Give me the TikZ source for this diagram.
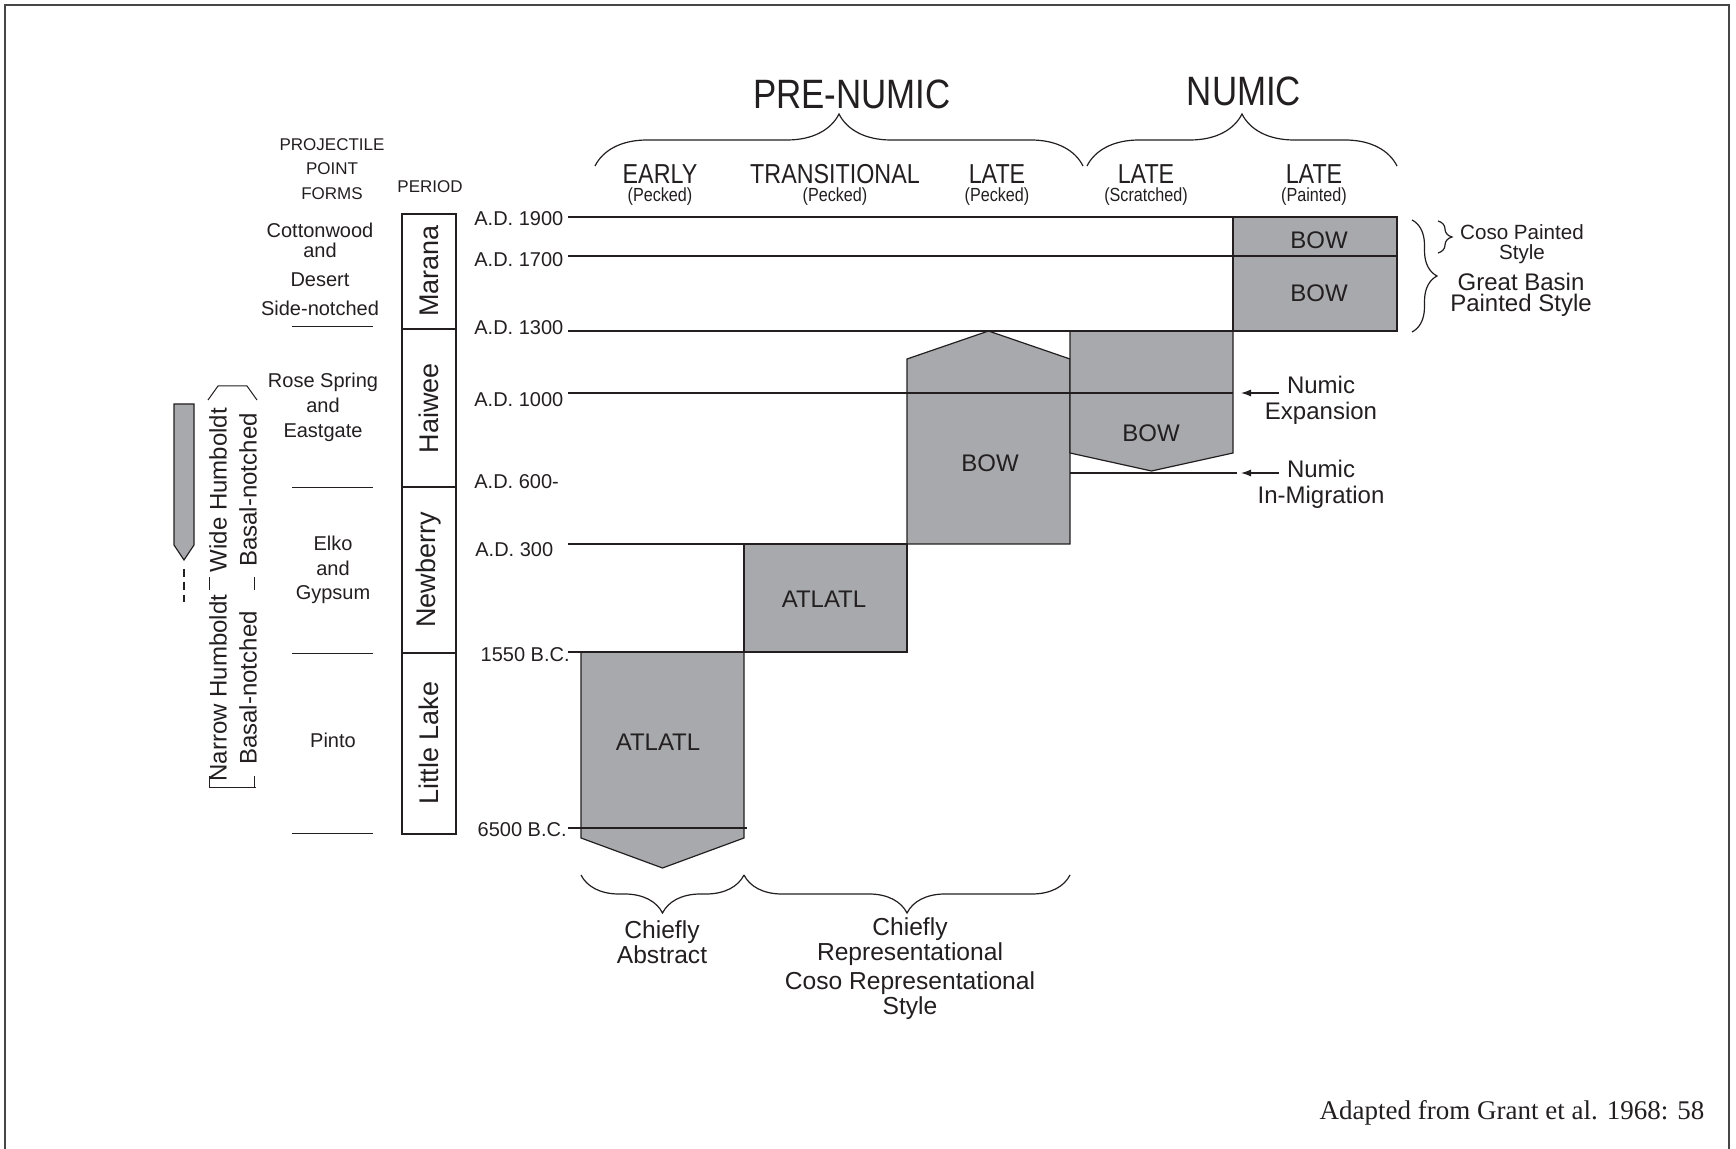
\documentclass[tikz,border=0pt]{standalone}
\usepackage{fontspec}
\setmainfont{Liberation Sans}
\newfontfamily\condfont{Liberation Sans}[FakeStretch=0.85]
\newfontfamily\citefont{Liberation Serif}
\usetikzlibrary{arrows.meta, calc, decorations.pathreplacing}
\definecolor{cink}{RGB}{35,31,32}
\definecolor{cblock}{RGB}{167,169,172}
\definecolor{cframe}{RGB}{70,70,70}

\begin{document}
\begin{tikzpicture}[
    x=0.5pt, y=-0.5pt,
    every node/.style={text=cink, inner sep=0pt, align=center},
    tline/.style={draw=cink, line width=0.7pt},
    thinl/.style={draw=cink, line width=0.5pt},
    blockshape/.style={draw=cink, fill=cblock, line width=0.6pt},
    blocklbl/.style={font=\fontsize{12}{12}\selectfont},
    datelbl/.style={font=\fontsize{10}{10}\selectfont},
    hdr/.style={font=\condfont\fontsize{20.5}{20.5}\selectfont},
    colhead/.style={font=\condfont\fontsize{13.7}{13.7}\selectfont},
    colsub/.style={font=\condfont\fontsize{9.5}{9.5}\selectfont},
    periodbox/.style={draw=cink, line width=1.3pt},
    periodlbl/.style={rotate=90, font=\fontsize{13.5}{13.5}\selectfont},
    formlbl/.style={font=\fontsize{10}{12.5}\selectfont},
    humlbl/.style={rotate=90, font=\fontsize{12}{15}\selectfont},
    sidelbl/.style={font=\fontsize{12}{13}\selectfont},
    bracefrm/.style={draw=cink, line width=0.6pt, decorate, decoration={brace, amplitude=#1}},
    pointer/.style={draw=cink, line width=0.6pt, -{Latex[length=5pt,width=3.5pt]}}
]
\useasboundingbox (0,0) rectangle (1736,1149);
\draw[cframe, line width=1pt] (5,1149) -- (5,5) -- (1729,5) -- (1729,1149);

% headings
\node[hdr] (prenumic) at (852,94) {PRE-NUMIC};
\node[hdr] (numic) at (1244,91) {NUMIC};
\draw[bracefrm=26pt] (595,166) -- (1083,166);
\draw[bracefrm=26pt] (1087,166) -- (1397,166);

\node[colhead] (early) at (660,174) {EARLY};
\node[colsub] (earlysub) at (660,197) {(Pecked)};
\node[colhead] (trans) at (835,174) {TRANSITIONAL};
\node[colsub] (transsub) at (835,197) {(Pecked)};
\node[colhead] (latepk) at (997,174) {LATE};
\node[colsub] (latepksub) at (997,197) {(Pecked)};
\node[colhead] (latesc) at (1146,174) {LATE};
\node[colsub] (latescsub) at (1146,197) {(Scratched)};
\node[colhead] (latept) at (1314,174) {LATE};
\node[colsub] (lateptsub) at (1314,197) {(Painted)};

% style blocks
\draw[blockshape] (581,652) -- (744,652) -- (744,838) -- (662.5,868) -- (581,838) -- cycle;
\draw[blockshape] (744,544) rectangle (907,652);
\draw[blockshape] (907,544) -- (907,359) -- (988.5,331) -- (1070,359) -- (1070,544) -- cycle;
\draw[blockshape] (1070,331) -- (1233,331) -- (1233,453) -- (1151.5,471) -- (1070,453) -- cycle;
\draw[blockshape] (1233,217) rectangle (1397,331);

% time lines
\foreach \yy/\xe in {217/1233, 256/1397, 331/1397, 393/1233, 544/907, 652/907, 828/747}
    \draw[tline] (568,\yy) -- (\xe,\yy);
\draw[tline] (1070,473) -- (1237,473);

\node[blocklbl] (atlatlA) at (658,742) {ATLATL};
\node[blocklbl] (atlatlB) at (824,599) {ATLATL};
\node[blocklbl] (bowA) at (990,463) {BOW};
\node[blocklbl] (bowB) at (1151,433) {BOW};
\node[blocklbl] (bowC) at (1319,240) {BOW};
\node[blocklbl] (bowD) at (1319,293) {BOW};

% dates
\node[datelbl, anchor=west] (d1900) at (474,219) {A.D. 1900};
\node[datelbl, anchor=west] (d1700) at (474,260) {A.D. 1700};
\node[datelbl, anchor=west] (d1300) at (474,328) {A.D. 1300};
\node[datelbl, anchor=west] (d1000) at (474,400) {A.D. 1000};
\node[datelbl, anchor=west] (d600) at (474,482) {A.D. 600-};
\node[datelbl, anchor=west] (d300) at (475,550) {A.D. 300};
\node[datelbl, anchor=east] (d1550) at (570,655) {1550 B.C.};
\node[datelbl, anchor=east] (d6500) at (567,830) {6500 B.C.};

% period column
\draw[periodbox] (402,214) rectangle (456,834);
\foreach \yy in {329,487,653}
    \draw[periodbox] (402,\yy) -- (456,\yy);
\node[periodlbl] (marana) at (429,271) {Marana};
\node[periodlbl] (haiwee) at (429,408) {Haiwee};
\node[periodlbl] (newberry) at (429,570) {Newberry};
\node[periodlbl] (littlelake) at (429,743) {Little Lake};
\node[font=\fontsize{8.5}{12.25}\selectfont] (projhead) at (332,169) {PROJECTILE\\POINT\\FORMS};
\node[font=\fontsize{8.5}{8.5}\selectfont] (periodhead) at (430,187) {PERIOD};

% point forms
\node[font=\fontsize{10}{14.5}\selectfont] (cotton) at (320,269) {Cottonwood\\[-4.5pt]and\\Desert\\Side-notched};
\node[formlbl] (rose) at (323,407) {Rose Spring\\and\\Eastgate};
\node[font=\fontsize{10}{12.25}\selectfont] (elko) at (333,570) {Elko\\and\\Gypsum};
\node[formlbl] (pinto) at (333,740) {Pinto};
\foreach \yy in {327,488,654,834}
    \draw[thinl] (292,\yy) -- (373,\yy);

% humboldt
\node[humlbl] (widehum) at (233,490) {Wide Humboldt\\Basal-notched};
\node[humlbl] (narrowhum) at (233,688) {Narrow Humboldt\\Basal-notched};
\draw[thinl] (208,400) -- (218,386) -- (247,386) -- (257,400);
\draw[thinl] (209,577) -- (209,590);
\draw[thinl] (254,577) -- (254,590);
\draw[thinl] (209,776) -- (209,788) -- (256,788);
\draw[thinl] (254,776) -- (254,788);
\draw[blockshape] (174,404) -- (194,404) -- (194,545) -- (184,560) -- (174,545) -- cycle;
\draw[cink, line width=0.6pt, dash pattern=on 4pt off 2.5pt] (184,569) -- (184,602);

% right side
\draw[bracefrm=12.5pt] (1412,220) -- (1412,332);
\draw[bracefrm=7pt] (1438,221) -- (1438,253);
\node[font=\fontsize{10.3}{10}\selectfont] (cosopaint) at (1522,244) {Coso Painted\\Style};
\node[font=\fontsize{12}{10.5}\selectfont] (gbpaint) at (1521,295) {Great Basin\\Painted Style};
\node[sidelbl] (numexp) at (1321,400) {Numic\\Expansion};
\node[sidelbl] (nummig) at (1321,484) {Numic\\In-Migration};
\coordinate (expfrom) at (1279,393);
\coordinate (expto) at (1241,393);
\coordinate (migfrom) at (1279,473);
\coordinate (migto) at (1241,473);
\draw[pointer] (expfrom) -- (expto);
\draw[pointer] (migfrom) -- (migto);

% bottom
\draw[bracefrm=19pt] (744,875) -- (581,875);
\draw[bracefrm=19pt] (1070,875) -- (744,875);
\node[font=\fontsize{12.3}{11}\selectfont] (abstract) at (662,942) {Chiefly\\Abstract};
\node[font=\fontsize{12.3}{11}\selectfont] (represent) at (910,942) {Chiefly\\Representational};
\node[font=\fontsize{12.3}{11}\selectfont] (cosorep) at (910,996) {Coso Representational\\Style};
\node[font=\citefont\fontsize{13.5}{13.5}\selectfont] (source) at (1512,1113) {Adapted from Grant et al. 1968: 58};
\end{tikzpicture}
\end{document}
